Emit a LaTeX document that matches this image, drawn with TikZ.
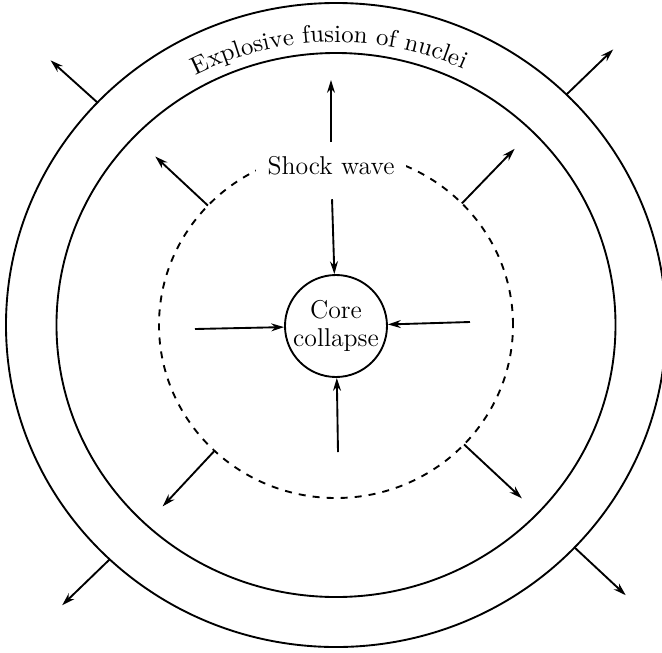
\documentclass[tikz,border=0pt]{standalone}
\usetikzlibrary{shapes.geometric, arrows.meta, decorations.text}
\tikzset{
  ring/.style={draw, ellipse, inner sep=0pt, outer sep=0pt, line width=0.8pt},
  push/.style={-{Stealth[length=5.5pt,width=3.4pt]}, line width=0.8pt},
}
\begin{document}
\begin{tikzpicture}[x=0.015cm, y=0.015cm, font=\fontsize{11}{12}\selectfont]
\useasboundingbox (-336,-327) rectangle (326,325);
\node[ring, minimum width=9.9cm, minimum height=9.66cm] (outer) at (0,0) {};
\node[ring, minimum width=8.385cm, minimum height=8.16cm] (shell) at (0,0) {};
\node[ring, dash pattern=on 3pt off 3pt, minimum width=5.31cm, minimum height=5.19cm] (front) at (0,0) {};
\node[draw, circle, line width=0.8pt, inner sep=0pt, minimum size=1.53cm, align=center] (core) at (0,-1) {Core\\collapse};
\node[fill=white, inner xsep=5pt, inner ysep=5pt] (wave) at (-5,159) {Shock wave};
% curved label in the outer band
\path[decorate, decoration={text along path, text align=center,
  text={|\fontsize{10.6}{12}\selectfont|Explosive fusion of nuclei}}]
  ([shift={(125:313)}]0,-30) arc[start angle=125, end angle=57.6, radius=313];
% arrows into the core
\coordinate (upTip) at (-5,245);
\coordinate (leftEnd) at (-141,-4);
\coordinate (rightEnd) at (134,3);
\coordinate (lowEnd) at (2,-127);
\draw[push, shorten <=1pt] (wave) -- (upTip);
\draw[push, shorten <=5pt] (wave) -- (core);
\draw[push] (leftEnd) -- (core);
\draw[push] (rightEnd) -- (core);
\draw[push] (lowEnd) -- (core);
% arrows out of the shock front
\draw[push] (front.137) -- ++(137:72);
\draw[push] (front.44) -- ++(46:76);
\draw[push] (front.226) -- ++(227:76);
\draw[push] (front.317) -- ++(317:79);
% arrows out of the outer shell
\draw[push] (outer.137) -- ++(138:63);
\draw[push] (outer.45) -- ++(44:65);
\draw[push] (outer.226) -- ++(224:66);
\draw[push] (outer.317) -- ++(317:70);
\end{tikzpicture}
\end{document}
